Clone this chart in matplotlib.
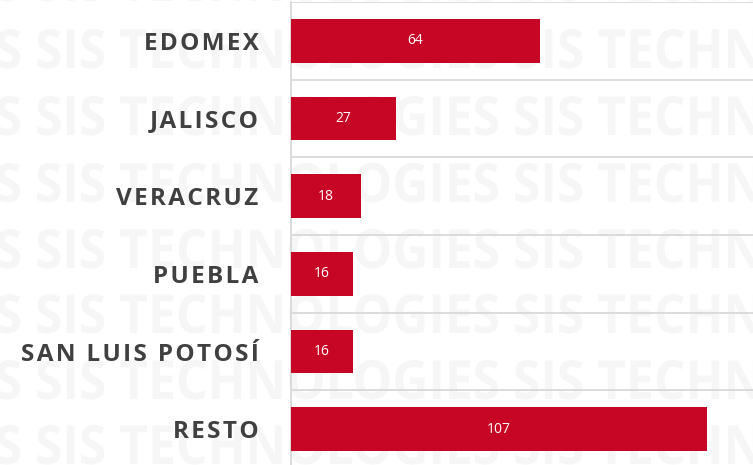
import matplotlib
matplotlib.use('Agg')
import matplotlib.pyplot as plt
from matplotlib.textpath import TextPath
from matplotlib.patches import PathPatch
from matplotlib.transforms import Affine2D
from matplotlib.font_manager import FontProperties

states = ['EDOMEX', 'JALISCO', 'VERACRUZ', 'PUEBLA', 'SAN LUIS POTOSÍ', 'RESTO']
counts = [64, 27, 18, 16, 16, 107]

bar_red = '#C70524'
label_gray = '#404040'
grid_gray = '#D9D9D9'
wm_gray = '#F6F6F6'

W, H = 753, 465
fig = plt.figure(figsize=(W / 100, H / 100), dpi=100)

# watermark rows "SIS TECHNOLOGIES", squeezed horizontally
wm_prop = FontProperties(family='Open Sans', weight='bold')
wm_size = 54
full = TextPath((0, 0), 'SIS TECHNOLOGIES SIS', size=wm_size, prop=wm_prop)
sis = TextPath((0, 0), 'SIS', size=wm_size, prop=wm_prop)
period_raw = full.get_extents().width - sis.get_extents().width
sx = 478 / period_raw
wm_path = TextPath((0, 0), 'SIS TECHNOLOGIES ' * 4, size=wm_size, prop=wm_prop)
for base in [1, 68, 135, 202, 268, 333, 399, 464]:
    tr = Affine2D().scale(sx, 1).translate(35 - 478, H - base)
    fig.add_artist(PathPatch(wm_path, transform=tr, facecolor=wm_gray,
                             edgecolor='none', zorder=-1))

ax = fig.add_axes([290.5 / W, -3 / H, 1 - 290.5 / W, 466 / H])
ax.set_facecolor('none')
ypos = list(range(len(states)))
ax.barh(ypos, counts, height=0.56, color=bar_red, zorder=3)
ax.set_xlim(0, 118.8)
ax.set_ylim(len(states) - 0.5, -0.5)

for y in [i - 0.5 for i in range(len(states) + 1)]:
    ax.axhline(y, color=grid_gray, lw=1.3, zorder=1)

for sp in ['top', 'right', 'bottom']:
    ax.spines[sp].set_visible(False)
ax.spines['left'].set_color(grid_gray)
ax.spines['left'].set_linewidth(1.3)
ax.set_xticks([])

ax.set_yticks(ypos)
ax.set_yticklabels(['\u200a'.join(s) for s in states],
                   family=['Open Sans', 'DejaVu Sans'], fontweight='bold',
                   fontsize=17.5, color=label_gray)
ax.tick_params(axis='y', length=0, pad=23)

for y, v in zip(ypos, counts):
    ax.text(v / 2, y, str(v), ha='center', va='center', color='white',
            fontsize=10, family='Open Sans', zorder=4)

fig.savefig('out.png', dpi=100)
